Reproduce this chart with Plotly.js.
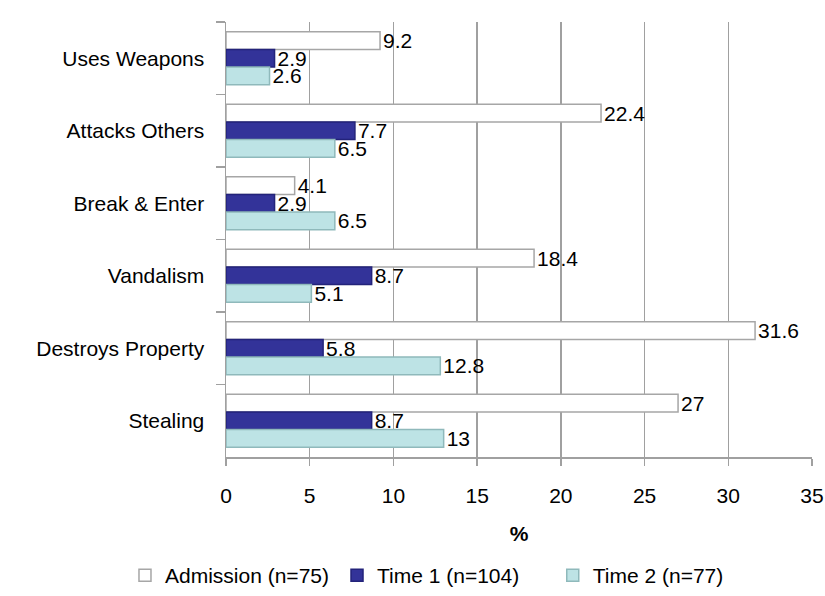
<!DOCTYPE html>
<html>
<head>
<meta charset="utf-8">
<script src="https://cdn.plot.ly/plotly-3.0.1.min.js"></script>
<style>html,body{margin:0;padding:0;background:#fff;}#chart{width:825px;height:596px;}</style>
</head>
<body>
<div id="chart"></div>
<script>
const categories = ["Uses Weapons", "Attacks Others", "Break & Enter", "Vandalism", "Destroys Property", "Stealing"];
const admission = [9.2, 22.4, 4.1, 18.4, 31.6, 27];
const time1 = [2.9, 7.7, 2.9, 8.7, 5.8, 8.7];
const time2 = [2.6, 6.5, 6.5, 5.1, 12.8, 13];
const seriesNames = ["Admission (n=75)", "Time 1 (n=104)", "Time 2 (n=77)"];
const xTicks = [0, 5, 10, 15, 20, 25, 30, 35];

const FONT = "Liberation Sans, Arial, sans-serif";
const FS = 21;
const fills = ["#ffffff", "#333399", "#bde3e5"];
const edges = ["#a6a6a6", "#23237a", "#8fb9bb"];
const legendIds = ["legend", "legend2", "legend3"];
const legendX = [0.1515, 0.4085, 0.670];

const data = [admission, time1, time2].map((vals, i) => ({
  type: "bar",
  orientation: "h",
  name: seriesNames[i],
  legend: legendIds[i],
  y: categories,
  x: vals,
  text: vals.map(v => String(v)),
  textposition: "outside",
  constraintext: "none",
  textfont: {family: FONT, size: FS, color: "#000"},
  cliponaxis: false,
  marker: {color: fills[i], line: {color: edges[i], width: 1.5}},
  hoverinfo: "skip"
}));

function legendAt(x) {
  return {
    orientation: "h", xref: "container", yref: "container",
    x: x, xanchor: "left", y: -0.004, yanchor: "bottom",
    font: {family: FONT, size: FS, color: "#000"},
    itemwidth: 30, bgcolor: "rgba(0,0,0,0)"
  };
}

const layout = {
  width: 825, height: 596,
  margin: {l: 226, r: 13, t: 22, b: 139},
  paper_bgcolor: "#fff", plot_bgcolor: "#fff",
  font: {family: FONT, size: FS, color: "#000"},
  barmode: "group",
  bargap: 0.27,
  bargroupgap: 0,
  showlegend: true,
  legend: legendAt(legendX[0]),
  legend2: legendAt(legendX[1]),
  legend3: legendAt(legendX[2]),
  xaxis: {
    range: [0, 35], tickvals: xTicks, ticktext: xTicks.map(String),
    showgrid: true, gridcolor: "#a0a0a0", gridwidth: 1.5,
    showline: true, linecolor: "#a0a0a0", linewidth: 1.5,
    ticks: "outside", ticklen: 7, tickcolor: "#a0a0a0", tickwidth: 1.5,
    ticklabelstandoff: 12,
    tickfont: {family: FONT, size: FS, color: "#000"},
    zeroline: false,
    title: {text: "<b>%</b>", font: {family: FONT, size: FS, color: "#000"}, standoff: 20}
  },
  yaxis: {
    autorange: "reversed", type: "category",
    showline: true, linecolor: "#a0a0a0", linewidth: 1.5,
    ticks: "outside", ticklen: 9, tickcolor: "#a0a0a0", tickwidth: 1.5,
    tickson: "boundaries", ticklabelstandoff: 16,
    tickfont: {family: FONT, size: FS, color: "#000"},
    showgrid: false, zeroline: false
  }
};

Plotly.newPlot("chart", data, layout, {displayModeBar: false, staticPlot: true});
</script>
</body>
</html>
